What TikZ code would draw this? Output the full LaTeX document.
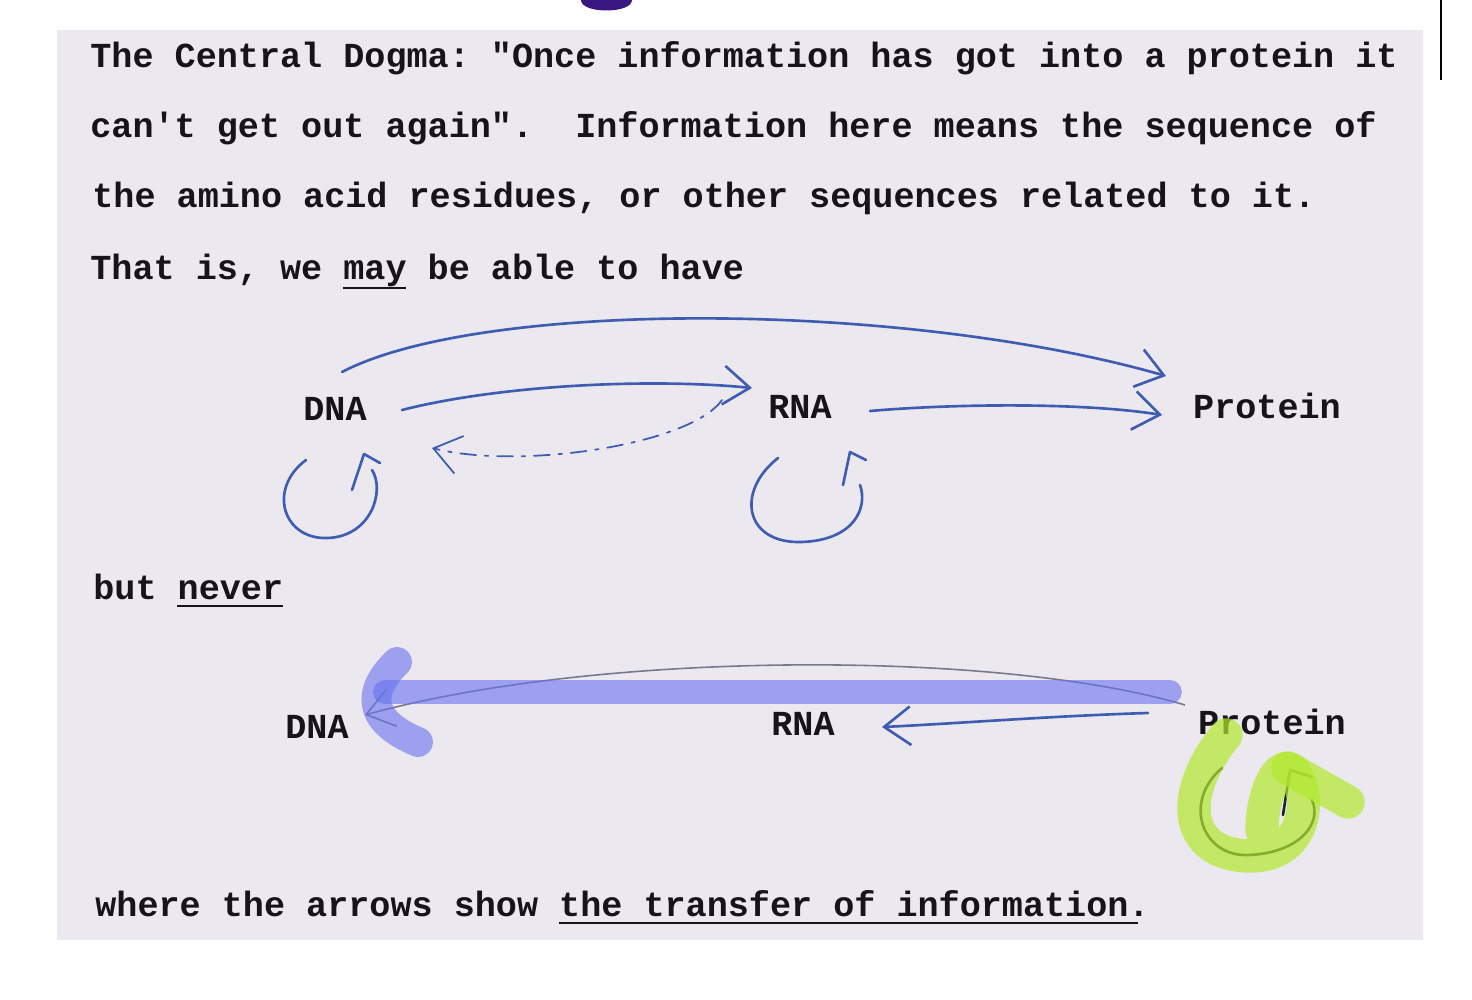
\documentclass[tikz,border=0pt]{standalone}
\usepackage{fontspec}
\newfontfamily\typer{Liberation Mono}
\usetikzlibrary{arrows.meta,calc}
\definecolor{paper}{RGB}{236,232,240}
\definecolor{ink}{RGB}{62,92,178}
\definecolor{typeink}{RGB}{22,20,26}
\definecolor{faint}{RGB}{120,120,140}
\definecolor{hiblue}{RGB}{104,112,238}
\definecolor{higreen}{RGB}{178,232,44}
\definecolor{blob}{RGB}{58,22,128}
\tikzset{
  typed/.style={font=\typer\bfseries\fontsize{20}{24}\selectfont, text=typeink, inner sep=0pt, anchor=base west},
  molecule/.style={font=\typer\bfseries\fontsize{20}{24}\selectfont, text=typeink, inner sep=0pt},
  pen/.style={draw=ink, line width=1.5pt, line cap=round, line join=round},
  penhead/.tip={Straight Barb[length=15pt,width=22pt]},
  rule/.style={draw=typeink, line width=1.7pt},
  marker/.style={line width=#1, line cap=round, line join=round}
}
\frenchspacing
\begin{document}
\begin{tikzpicture}[x=0.02cm, y=-0.02cm]
\useasboundingbox (0,0) rectangle (1472,1000);
\fill[white] (0,0) rectangle (1472,1000);
\fill[paper] (57,30) rectangle (1423,940);
\fill[blob] (581,0) .. controls (581,14) and (632,14) .. (632,0) -- cycle;
\draw[line width=1pt] (1441,0) -- (1441,80);

\node[typed] (line1) at (90,68) {The Central Dogma: "Once information has got into a protein it};
\node[typed] (line2) at (90,138) {can't get out again".\ \ Information here means the sequence of};
\node[typed] (line3) at (92,208) {the amino acid residues, or other sequences related to it.};
\node[typed] (line4) at (90,280) {That is, we may be able to have};
\node[typed] (line5) at (93,599) {but never};
\node[typed] (line6) at (95,916) {where the arrows show the transfer of information.};
\draw[rule] ($(line4.base west)+(12*21.08,8)$) -- ($(line4.base west)+(15*21.08,8)$);
\draw[rule] ($(line5.base west)+(4*21.08,7)$) -- ($(line5.base west)+(9*21.08,7)$);
\draw[rule] ($(line6.base west)+(22*21.08,7)$) -- ($(line6.base west)+(49.5*21.08,7)$);

\node[molecule] (dnaA) at (335,409) {DNA};
\node[molecule] (rnaA) at (800,407) {RNA};
\node[molecule] (protA) at (1267,406) {Protein};
\node[molecule] (dnaB) at (317,727) {DNA};
\node[molecule] (rnaB) at (803,724) {RNA};
\node[molecule] (protB) at (1272,722) {Protein};

\draw[pen,-penhead] ($(dnaA)+(7,-37)$) .. controls (480,300) and (900,300) .. ($(protA)+(-101,-30)$);
\draw[pen,-penhead] ($(dnaA)+(67,1)$) .. controls (500,385) and (650,378) .. ($(rnaA)+(-48,-19)$);
\draw[pen,-penhead] ($(rnaA)+(70,4)$) .. controls (950,404) and (1080,402) .. ($(protA)+(-105,9)$);
\draw[pen,line width=1pt,dash pattern=on 9pt off 5pt on 2pt off 5pt,-penhead] ($(rnaA)+(-78,-7)$) .. controls (690,445) and (520,470) .. ($(dnaA)+(97,39)$);
\begin{scope}[shift={(dnaA)}]
\draw[pen] (-29,51) .. controls (-68,80) and (-52,131) .. (-7,129) .. controls (37,127) and (50,81) .. (37,61);
\draw[pen] (17,81) -- (29,45) -- (45,54);
\end{scope}
\begin{scope}[shift={(rnaA)}]
\draw[pen] (-22,51) .. controls (-65,85) and (-55,137) .. (2,135) .. controls (55,133) and (68,100) .. (60,78);
\draw[pen] (43,78) -- (50,45) -- (66,53);
\end{scope}

\draw[faint,line width=0.9pt,-penhead] ($(protB)+(-87,-17)$) .. controls (1000,650) and (600,650) .. ($(dnaB)+(48,-12)$);
\draw[pen,-penhead] ($(protB)+(-124,-9)$) .. controls (1050,716) and (950,724) .. ($(rnaB)+(79,3)$);
\begin{scope}[shift={(protB)}]
\draw[draw=typeink!80!ink,line width=1.5pt,line cap=round] (-50,46) .. controls (-90,80) and (-70,136) .. (-22,133) .. controls (30,130) and (50,100) .. (40,78);
\draw[draw=typeink!80!ink,line width=1.5pt,line cap=round,line join=round] (11,93) -- (18,48) -- (40,55);
\end{scope}

\draw[hiblue,opacity=0.6,marker=13.5pt] (1170,692) -- (385,692);
\draw[hiblue,opacity=0.6,marker=17pt] (397,662) .. controls (368,690) and (365,720) .. (418,742);
\draw[higreen,opacity=0.7,marker=19pt] (1226,735) .. controls (1180,790) and (1180,855) .. (1250,856) .. controls (1310,856) and (1312,790) .. (1292,770) .. controls (1275,760) and (1262,800) .. (1262,830);
\draw[higreen,opacity=0.7,marker=19pt] (1288,768) -- (1348,802);
\end{tikzpicture}
\end{document}
